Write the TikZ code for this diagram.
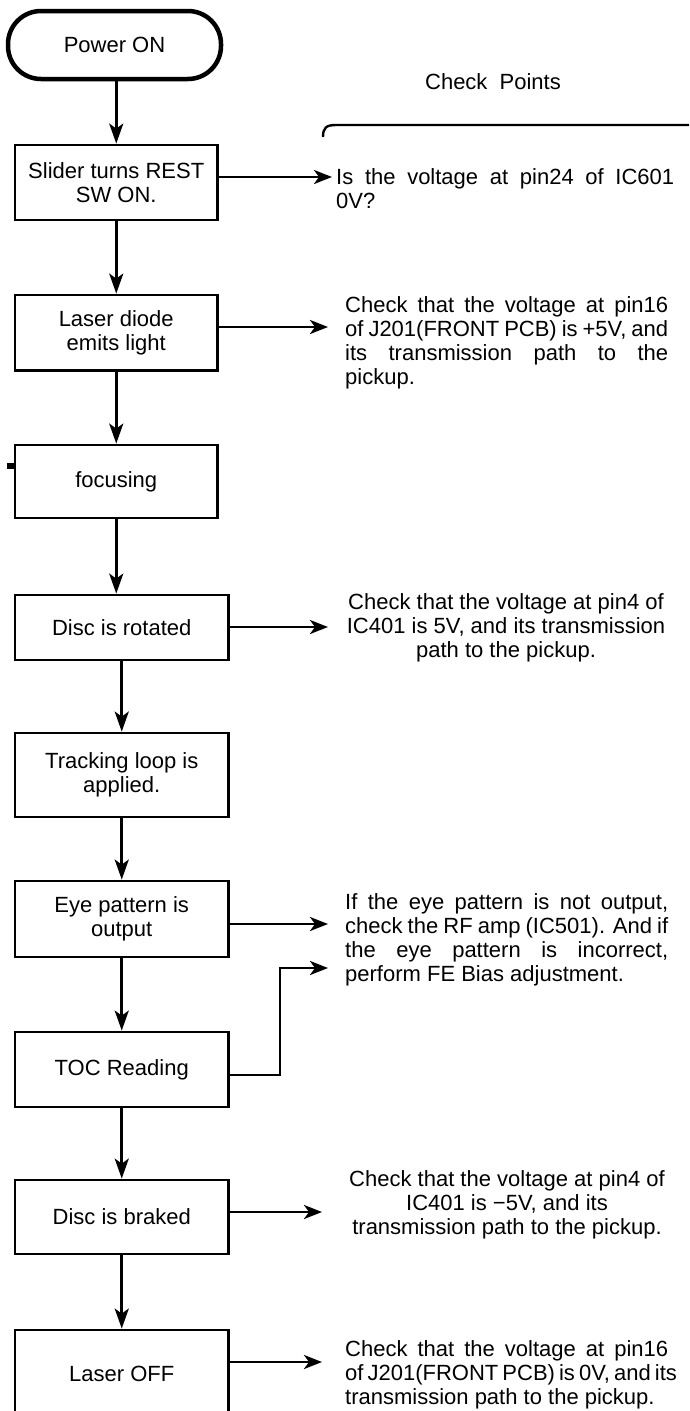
\documentclass[tikz,border=0pt]{standalone}
\usepackage{fontspec}
\setmainfont{Liberation Sans}
\usetikzlibrary{arrows.meta}
\newcommand{\jline}[2]{\makebox[#1][s]{#2}}
\begin{document}
\begin{tikzpicture}[x=1pt,y=-1pt,
  txt/.style={font=\fontsize{22}{24}\selectfont, inner sep=0pt},
  stepbox/.style={draw, line width=2.8pt, align=center, inner sep=2pt, font=\fontsize{22}{24}\selectfont},
  startbox/.style={draw, line width=4.5pt, rounded corners=33pt, align=center, font=\fontsize{22}{24}\selectfont},
  varr/.style={line width=2.8pt, -{Stealth[length=20pt,width=14pt,inset=5pt]}},
  harr/.style={line width=2.8pt, -{Stealth[length=18pt,width=14pt,inset=5pt]}},
  plain/.style={line width=2.8pt}]
\useasboundingbox (0,0) rectangle (689,1411);
\clip (0,0) rectangle (689,1411);

% flow boxes
\node[startbox, minimum width=213pt, minimum height=68pt] (pwr) at (114.5,45) {Power ON};
\node[stepbox, minimum width=202.5pt, minimum height=75pt] (sl) at (116.25,182.5) {Slider turns REST\\SW ON.};
\node[stepbox, minimum width=202.5pt, minimum height=75.5pt] (las) at (116.25,332.75) {Laser diode\\emits light};
\node[stepbox, minimum width=202.5pt, minimum height=73pt] (foc) at (116.25,481.5) {focusing};
\node[stepbox, minimum width=213.5pt, minimum height=65pt] (rot) at (121.75,627.5) {Disc is rotated};
\node[stepbox, minimum width=213.5pt, minimum height=84pt] (trk) at (121.75,775) {Tracking loop is\\applied.};
\node[stepbox, minimum width=213.5pt, minimum height=76pt] (eye) at (121.75,919) {Eye pattern is\\output};
\node[stepbox, minimum width=213.5pt, minimum height=75pt] (toc) at (121.75,1069.5) {TOC Reading};
\node[stepbox, minimum width=213.5pt, minimum height=74pt] (brk) at (121.75,1217) {Disc is braked};
\node[stepbox, minimum width=213.5pt, minimum height=88pt] (off) at (121.75,1374) {Laser OFF};

% small stub at the left of "focusing"
\fill (7,463) rectangle (15,469);

% vertical connectors
\draw[varr] (pwr.south -| sl.north) -- (sl.north);
\draw[varr] (sl.south) -- (las.north);
\draw[varr] (las.south) -- (foc.north);
\draw[varr] (foc.south) -- (foc.south |- rot.north);
\draw[varr] (rot.south) -- (trk.north);
\draw[varr] (trk.south) -- (eye.north);
\draw[varr] (eye.south) -- (toc.north);
\draw[varr] (toc.south) -- (brk.north);
\draw[varr] (brk.south) -- (off.north);

% check points header
\node[txt] (cph) at (493,82) {Check\ \ Points};
\coordinate (brA) at (323,137);
\coordinate (brB) at (689,125);
\draw[line width=2.4pt] (brA) .. controls (323,128) and (326,125) .. (336,125) -- (brB);

% check point texts
\node[txt, anchor=west, align=left] (t1) at (336,189)
  {\jline{338pt}{Is the voltage at pin24 of IC601}\\0V?};
\node[txt, anchor=west, align=left] (t2) at (345,343)
  {\jline{323pt}{Check that the voltage at pin16}\\
   \jline{323pt}{of J201(FRONT PCB) is +5V, and}\\
   \jline{323pt}{its transmission path to the}\\
   pickup.};
\node[txt, align=center] (t3) at (506,627.5)
  {Check that the voltage at pin4 of\\
   IC401 is 5V, and its transmission\\
   path to the pickup.};
\node[txt, anchor=west, align=left] (t4) at (345,940)
  {\jline{323pt}{If the eye pattern is not output,}\\
   \jline{323pt}{check the RF amp (IC501). And if}\\
   \jline{323pt}{the eye pattern is incorrect,}\\
   perform FE Bias adjustment.};
\node[txt, align=center] (t5) at (507,1205)
  {Check that the voltage at pin4 of\\
   IC401 is −5V, and its\\
   transmission path to the pickup.};
\node[txt, anchor=west, align=left] (t6) at (345,1375)
  {\jline{323pt}{Check that the voltage at pin16}\\
   \jline{323pt}{of J201(FRONT PCB) is 0V, and its}\\
   transmission path to the pickup.};

% horizontal connectors
\coordinate (h1) at (332,177);
\coordinate (h2) at (328,327);
\coordinate (h3) at (328,627);
\coordinate (h4) at (328,924);
\coordinate (h5) at (328,968);
\coordinate (h6) at (322,1212);
\coordinate (h7) at (322,1362);
\coordinate (k5) at (280,1075);
\draw[harr] (sl.east |- h1) -- (h1);
\draw[harr] (las.east |- h2) -- (h2);
\draw[harr] (rot.east |- h3) -- (h3);
\draw[harr] (eye.east |- h4) -- (h4);
\draw[harr] (toc.east |- k5) -- (k5) -- (k5 |- h5) -- (h5);
\draw[harr] (brk.east |- h6) -- (h6);
\draw[harr] (off.east |- h7) -- (h7);
\end{tikzpicture}
\end{document}
